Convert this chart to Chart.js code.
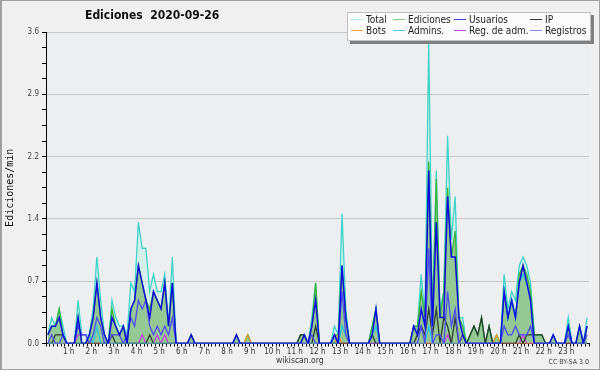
<!DOCTYPE html>
<html>
<head>
<meta charset="utf-8">
<script src="https://cdn.jsdelivr.net/npm/chart.js@4.4.0/dist/chart.umd.min.js"></script>
<style>
  body { margin: 0; background: #f0f0f0; }
  #marco { position: relative; width: 600px; height: 370px; background: #f0f0f0; font-family: "DejaVu Sans Condensed", "DejaVu Sans", sans-serif; }
  #borde { position: absolute; left: 0; top: 0; width: 600px; height: 370px; box-sizing: border-box; border: 1px solid #a0a0a0; border-left-width: 2px; pointer-events: none; }
  canvas { position: absolute; left: 0; top: 0; }
  #titulo { position: absolute; left: 85px; top: 8px; font-weight: bold; font-size: 12px; white-space: pre; color: #111; }
  #leyenda { position: absolute; left: 347px; top: 12px; width: 242px; height: 27px; background: #fbfbfb; border: 1px solid #c0c0c0; box-shadow: 3px 3px 0 #808080; }
  .it { position: absolute; font-size: 10px; line-height: 11px; white-space: pre; color: #222; }
  .it i { position: absolute; left: -15px; top: 5px; width: 12px; height: 1px; }
  #pie { position: absolute; left: 276px; top: 355px; font-size: 8.5px; color: #333; }
  #cc { position: absolute; right: 11px; top: 358px; font-size: 7px; color: #444; }
</style>
</head>
<body>
<div id="marco">
  <canvas id="grafico" width="600" height="370"></canvas>
  <div id="titulo">Ediciones  2020-09-26</div>
  <div id="leyenda"></div>
  <div id="pie">wikiscan.org</div>
  <div id="cc">CC BY-SA 3.0</div>
  <div id="borde"></div>
</div>
<script>
// valores por tramos de 10 minutos (ediciones/min), 144 tramos
var total = [
  0.1,0.3,0.2,0.4,0.2,0,0,0,0.5,0.1,0.1,0.1,
  0.4,1.0,0.5,0.1,0,0.5,0.3,0.2,0.2,0.1,0.7,0.6,
  1.4,1.1,1.1,0.6,0.8,0.6,0.6,0.8,0.2,1.0,0,0,
  0,0,0.1,0,0,0,0,0,0,0,0,0,
  0,0,0.1,0,0,0.1,0,0,0,0,0,0,
  0,0,0,0,0,0,0,0.1,0.1,0,0.3,0.7,
  0,0,0,0,0.2,0.1,1.5,0.4,0,0,0,0,
  0,0,0.2,0.4,0,0,0,0,0,0,0,0,
  0,0.2,0.2,0.8,0.3,3.5,0.3,2.0,0.4,0.6,2.4,1.2,
  1.7,0.3,0.3,0,0.1,0.2,0.1,0.3,0,0.2,0,0.1,
  0,0.8,0.4,0.6,0.5,0.9,1.0,0.9,0.7,0.1,0.1,0.1,
  0,0,0.1,0,0,0,0.3,0,0,0.2,0,0.3
]
var ediciones = [
  0.1,0.2,0.2,0.4,0.1,0,0,0,0.3,0,0,0.1,
  0.3,0.7,0.3,0.1,0,0.4,0.2,0.1,0.2,0,0.4,0.5,
  0.9,0.7,0.5,0.4,0.6,0.5,0.4,0.7,0.2,0.7,0,0,
  0,0,0.1,0,0,0,0,0,0,0,0,0,
  0,0,0.1,0,0,0.1,0,0,0,0,0,0,
  0,0,0,0,0,0,0,0.1,0.1,0,0.2,0.7,
  0,0,0,0,0.1,0.1,0.9,0.3,0,0,0,0,
  0,0,0.2,0.4,0,0,0,0,0,0,0,0,
  0,0.2,0.2,0.6,0.3,2.1,0.3,1.9,0.3,0.6,1.8,1.0,
  1.3,0.3,0.2,0,0.1,0.2,0.1,0.3,0,0.2,0,0.1,
  0,0.6,0.3,0.5,0.3,0.8,0.9,0.8,0.6,0.1,0.1,0.1,
  0,0,0.1,0,0,0,0.2,0,0,0.2,0,0.2
]
var usuarios = [
  0.1,0.2,0.2,0.3,0.1,0,0,0,0.3,0,0,0.1,
  0.3,0.7,0.3,0.1,0,0.3,0.2,0.1,0.2,0,0.4,0.5,
  0.9,0.7,0.5,0.3,0.6,0.5,0.4,0.7,0.2,0.7,0,0,
  0,0,0.1,0,0,0,0,0,0,0,0,0,
  0,0,0.1,0,0,0,0,0,0,0,0,0,
  0,0,0,0,0,0,0,0,0.1,0,0.2,0.5,
  0,0,0,0,0.1,0,0.9,0.3,0,0,0,0,
  0,0,0.1,0.4,0,0,0,0,0,0,0,0,
  0,0.2,0.1,0.4,0.2,2.0,0.2,1.4,0.3,0.3,1.7,1.0,
  1.0,0.3,0.1,0,0,0,0,0,0,0,0,0,
  0,0.6,0.3,0.5,0.3,0.7,0.9,0.7,0.5,0,0,0,
  0,0,0.1,0,0,0,0.2,0,0,0.2,0,0.2
]
var ip = [
  0,0,0.1,0.1,0.1,0,0,0,0,0,0,0,
  0,0,0,0,0,0.1,0,0,0,0,0,0,
  0,0,0,0.1,0,0,0,0,0,0,0,0,
  0,0,0,0,0,0,0,0,0,0,0,0,
  0,0,0,0,0,0,0,0,0,0,0,0,
  0,0,0,0,0,0,0,0.1,0.1,0,0,0.2,
  0,0,0,0,0,0,0,0,0,0,0,0,
  0,0,0.1,0,0,0,0,0,0,0,0,0,
  0,0,0.1,0.2,0.1,0.4,0.1,0.4,0,0.3,0.2,0,
  0.3,0,0.1,0,0.1,0.2,0.1,0.3,0,0.2,0,0,
  0,0,0,0,0,0.1,0,0.1,0.1,0.1,0.1,0.1,
  0,0,0,0,0,0,0,0,0,0,0,0
]
var bots = [
  0,0,0,0,0,0,0,0,0,0,0,0,
  0,0,0,0,0,0,0,0,0,0,0,0,
  0,0,0,0,0,0,0,0,0,0,0,0,
  0,0,0,0,0,0,0,0,0,0,0,0,
  0,0,0,0,0,0.1,0,0,0,0,0,0,
  0,0,0,0,0,0,0,0,0,0,0,0,
  0,0,0,0,0,0.1,0,0,0,0,0,0,
  0,0,0,0,0,0,0,0,0,0,0,0,
  0,0,0,0,0,0,0,0,0,0,0,0,
  0,0,0,0,0,0,0,0,0,0,0,0.1,
  0,0,0,0,0,0,0,0,0,0,0,0,
  0,0,0,0,0,0,0,0,0,0,0,0
]
var admins = [
  0,0,0,0,0,0,0,0,0,0,0,0.1,
  0,0.2,0,0,0,0,0,0,0,0,0,0,
  0,0,0,0,0,0,0,0,0,0,0,0,
  0,0,0,0,0,0,0,0,0,0,0,0,
  0,0,0,0,0,0,0,0,0,0,0,0,
  0,0,0,0,0,0,0,0,0,0,0,0,
  0,0,0,0,0,0,0.2,0.1,0,0,0,0,
  0,0,0.1,0.2,0,0,0,0,0,0,0,0,
  0,0,0,0,0,0.2,0,0,0,0,0,0,
  0,0,0,0,0,0,0,0,0,0,0,0,
  0,0.6,0.3,0.5,0.3,0.7,0.8,0.7,0.5,0,0,0,
  0,0,0,0,0,0,0.2,0,0,0,0,0
]
var regAdm = [
  0,0,0,0,0,0,0,0,0.1,0.1,0.1,0,
  0,0,0,0,0,0,0,0,0,0,0,0,
  0,0.1,0,0,0,0.1,0,0.1,0,0,0,0,
  0,0,0,0,0,0,0,0,0,0,0,0,
  0,0,0,0,0,0,0,0,0,0,0,0,
  0,0,0,0,0,0,0,0,0,0,0,0,
  0,0,0,0,0,0,0,0,0,0,0,0,
  0,0,0,0,0,0,0,0,0,0,0,0,
  0,0,0,0,0,0,0,0,0,0,0.1,0,
  0,0,0,0,0,0,0,0,0,0,0,0,
  0,0,0,0,0,0,0.1,0,0,0,0,0,
  0,0,0,0,0,0,0,0,0,0,0,0
]
var registros = [
  0,0.1,0,0,0.1,0,0,0,0.2,0.1,0.1,0,
  0.1,0.3,0.2,0,0,0.1,0.1,0.1,0,0.1,0.3,0.2,
  0.5,0.4,0.5,0.2,0.1,0.2,0.1,0.2,0.1,0.3,0,0,
  0,0,0,0,0,0,0,0,0,0,0,0,
  0,0,0,0,0,0,0,0,0,0,0,0,
  0,0,0,0,0,0,0,0,0,0,0.1,0,
  0,0,0,0,0.1,0,0.6,0.1,0,0,0,0,
  0,0,0,0,0,0,0,0,0,0,0,0,
  0,0,0,0.2,0,1.1,0,0.1,0.1,0,0.6,0.2,
  0.4,0,0.1,0,0,0,0,0,0,0,0,0,
  0,0.2,0.1,0.1,0.2,0.1,0.1,0.1,0.2,0,0,0,
  0,0,0,0,0,0,0.1,0,0,0,0,0.1
]

// hora del centro de cada tramo
var horas = total.map(function (v, i) { return (i + 0.5) / 6 })
var marcasY = [0, 0.18, 0.36, 0.54, 0.72, 0.9, 1.08, 1.26, 1.44, 1.62, 1.8, 1.98, 2.16, 2.34, 2.52, 2.7, 2.88, 3.06, 3.24, 3.42, 3.6]

var series = [
  { nombre: 'Total', datos: total, color: '#3fd3c9', leyenda: '#b4e8e6', relleno: 'rgba(195,240,234,0.6)', ancho: 1.3, orden: 9 },
  { nombre: 'Ediciones', datos: ediciones, color: '#3cb43c', leyenda: '#86d086', relleno: '#96c896', ancho: 1.3, orden: 8 },
  { nombre: 'Usuarios', datos: usuarios, color: '#0c0cdc', leyenda: '#4444e0', ancho: 1.5, orden: 0 },
  { nombre: 'IP', datos: ip, color: '#2c3c2c', leyenda: '#333333', ancho: 1.3, orden: 3 },
  { nombre: 'Bots', datos: bots, color: '#e89a30', leyenda: '#f0a040', ancho: 1.3, orden: 4 },
  { nombre: 'Admins.', datos: admins, color: '#28c4e4', leyenda: '#48cce0', ancho: 1.3, orden: 2 },
  { nombre: 'Reg. de adm.', datos: regAdm, color: '#c040e0', leyenda: '#c050e0', ancho: 1.3, orden: 5 },
  { nombre: 'Registros', datos: registros, color: '#4c4cf0', leyenda: '#8080f0', ancho: 1.3, orden: 1 }
]

var fondoGrafico = {
  id: 'fondoGrafico',
  beforeDraw: function (chart) {
    var a = chart.chartArea
    chart.ctx.save()
    chart.ctx.fillStyle = '#edeef0'
    chart.ctx.fillRect(a.left, a.top, a.right - a.left, a.bottom - a.top)
    chart.ctx.restore()
  }
}

var ctx = document.getElementById('grafico')
var miGrafico = new Chart(ctx, {
  type: 'line',
  data: {
    labels: horas,
    datasets: series.map(function (s) {
      return {
        label: s.nombre,
        data: s.datos,
        borderColor: s.color,
        backgroundColor: s.relleno || s.color,
        fill: s.relleno ? 'origin' : false,
        borderWidth: s.ancho,
        pointRadius: 0,
        tension: 0,
        order: s.orden
      }
    })
  },
  options: {
    responsive: false,
    animation: false,
    layout: { padding: { top: 32, right: 11, left: 0, bottom: 0 } },
    plugins: {
      legend: { display: false },
      tooltip: { enabled: false },
      filler: { drawTime: 'beforeDatasetsDraw' }
    },
    scales: {
      x: {
        type: 'linear',
        min: 0,
        max: 24,
        afterBuildTicks: function (scale) {
          var t = []
          for (var k = 0; k <= 144; k++) t.push({ value: k / 6 })
          scale.ticks = t
        },
        afterFit: function (scale) { scale.height = 26.5 },
        ticks: {
          autoSkip: false,
          maxRotation: 0,
          padding: 1,
          color: '#333',
          font: { family: 'DejaVu Sans Condensed, DejaVu Sans', size: 8 },
          callback: function (v, i) {
            if (i % 6 !== 0 || i === 0 || i === 144) return ''
            return (i / 6) + ' h'
          }
        },
        grid: { drawOnChartArea: false, tickLength: 3, tickColor: '#000' },
        border: { color: '#000', width: 1 }
      },
      y: {
        min: 0,
        max: 3.6,
        afterBuildTicks: function (scale) {
          scale.ticks = marcasY.map(function (v) { return { value: v } })
        },
        afterFit: function (scale) { scale.width = 46 },
        ticks: {
          autoSkip: false,
          padding: 3,
          color: '#444',
          font: { family: 'DejaVu Sans Condensed, DejaVu Sans', size: 8 },
          callback: function (v, i) {
            return i % 4 === 0 ? v.toFixed(1) : ''
          }
        },
        grid: {
          color: function (c) { return (c.index % 4 === 0 && c.index > 0) ? '#c8c8c8' : 'rgba(0,0,0,0)' },
          tickColor: '#000',
          tickLength: 4
        },
        border: { color: '#000', width: 1 },
        title: {
          display: true,
          text: 'Ediciones/min',
          color: '#111',
          padding: { top: 4, bottom: 0 },
          font: { family: 'DejaVu Sans Mono', size: 10 }
        }
      }
    }
  },
  plugins: [fondoGrafico]
})

// leyenda en recuadro arriba a la derecha
var leyenda = document.getElementById('leyenda')
var colX = [18, 60, 121, 197]
for (var i = 0; i < series.length; i++) {
  var d = document.createElement('div')
  d.className = 'it'
  d.style.left = colX[i % 4] + 'px'
  d.style.top = (i < 4 ? 1 : 12) + 'px'
  d.innerHTML = '<i style="background:' + series[i].leyenda + '"></i>' + series[i].nombre
  leyenda.appendChild(d)
}
</script>
</body>
</html>
